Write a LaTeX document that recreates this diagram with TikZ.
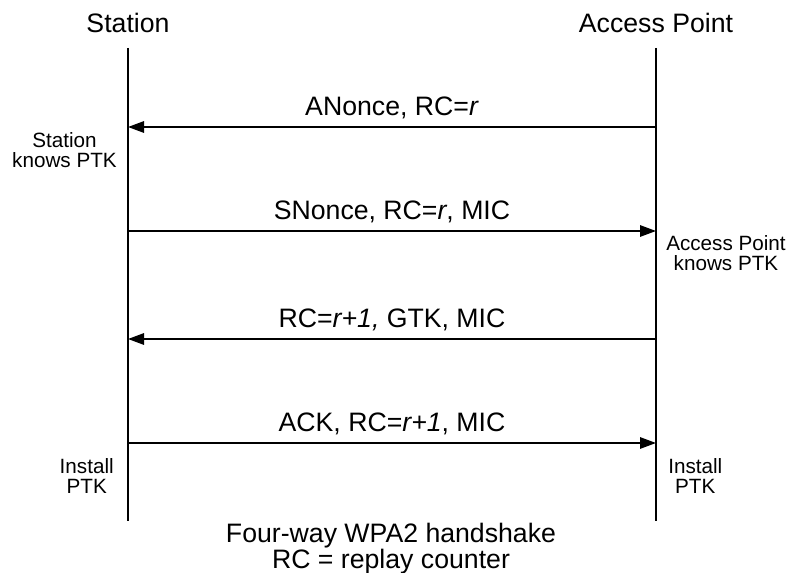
\documentclass[tikz,border=0pt]{standalone}
\usepackage{fontspec}
\setmainfont{Liberation Sans}
\usepackage{tikz}
\usetikzlibrary{arrows.meta,positioning}
\tikzset{
  actor/.style={anchor=base,inner sep=0pt,font=\fontsize{20}{22}\selectfont},
  lifeline/.style={line width=1.5pt,draw=black},
  msg/.style={-{Triangle[length=12pt,width=8.5pt]},line width=1.5pt,draw=black},
  msgtext/.style={midway,anchor=base,yshift=8.5pt,inner sep=0pt,font=\fontsize{20}{22}\selectfont},
  note/.style={align=center,inner sep=0pt,font=\fontsize{15.5}{15}\selectfont},
  caption/.style={align=center,inner sep=0pt,font=\fontsize{20}{16}\selectfont}
}
\begin{document}
\begin{tikzpicture}[x=0.75pt,y=-0.75pt]
  \useasboundingbox (0,0) rectangle (789,573);
  % actors and lifelines
  \node[actor] (sta) at (128,33) {Station};
  \node[actor] (ap) at (656,33) {Access Point};
  \coordinate (staTop) at (128,48);
  \coordinate (staBot) at (128,521);
  \coordinate (apTop) at (656,48);
  \coordinate (apBot) at (656,521);
  \draw[lifeline] (staTop) -- (staBot);
  \draw[lifeline] (apTop) -- (apBot);

  % message end points
  \coordinate (sta1) at (128,127);  \coordinate (ap1) at (656,127);
  \coordinate (sta2) at (128,231);  \coordinate (ap2) at (656,231);
  \coordinate (sta3) at (128,339);  \coordinate (ap3) at (656,339);
  \coordinate (sta4) at (128,443);  \coordinate (ap4) at (656,443);

  \draw[msg] (ap1) -- node[msgtext]{ANonce, RC=\textit{r}} (sta1);
  \draw[msg] (sta2) -- node[msgtext]{SNonce, RC=\textit{r}, MIC} (ap2);
  \draw[msg] (ap3) -- node[msgtext]{RC=\textit{r+1,} GTK, MIC} (sta3);
  \draw[msg] (sta4) -- node[msgtext]{ACK, RC=\textit{r+1}, MIC} (ap4);

  % side notes
  \node[note,anchor=east] (staknows) at (117,150) {Station\\knows PTK};
  \node[note,anchor=west] (apknows) at (666,253) {Access Point\\knows PTK};
  \node[note,anchor=east] (stainstall) at (114,476) {Install\\PTK};
  \node[note,anchor=west] (apinstall) at (668,476) {Install\\PTK};

  \node[caption,anchor=north] (cap) at (391,523) {Four-way WPA2 handshake\\RC = replay counter};
\end{tikzpicture}
\end{document}
